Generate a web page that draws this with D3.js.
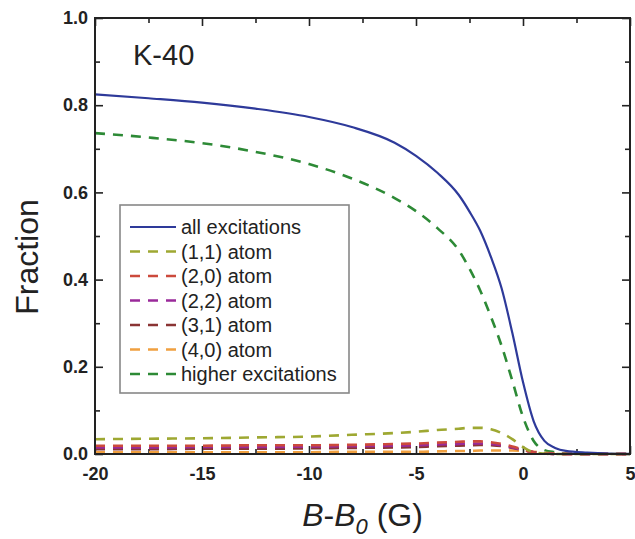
<!DOCTYPE html>
<html>
<head>
<meta charset="utf-8">
<script src="https://cdn.jsdelivr.net/npm/d3@7"></script>
<style>
  html, body { margin: 0; padding: 0; background: #fff; }
  svg { display: block; font-family: "Liberation Sans", Arial, sans-serif; }
  .tick text { font-family: "Liberation Sans", Arial, sans-serif; font-weight: bold; font-size: 18px; fill: #222; }
  .tick line { stroke: #222; stroke-width: 1.6; }
</style>
</head>
<body>
<svg id="chart" width="635" height="539"></svg>
<script>
// Detuning from resonance, B - B0 in gauss
const fieldG = [-20, -17.5, -15, -12.5, -10, -8, -6, -5, -4, -3, -2.5, -2, -1.5, -1, -0.5, 0, 0.5, 1, 1.5, 2, 3, 4, 5];

// Fraction of population in each excitation channel
const allExcitations = [0.825, 0.816, 0.806, 0.792, 0.773, 0.750, 0.714, 0.684, 0.645, 0.594, 0.556, 0.512, 0.452, 0.380, 0.278, 0.165, 0.075, 0.030, 0.014, 0.007, 0.003, 0.001, 0.0005];
const atom11 =         [0.034, 0.035, 0.036, 0.038, 0.040, 0.044, 0.048, 0.051, 0.055, 0.058, 0.060, 0.060, 0.057, 0.048, 0.034, 0.016, 0.004, 0.001, 0, 0, 0, 0, 0];
const atom20 =         [0.019, 0.019, 0.019, 0.020, 0.020, 0.021, 0.023, 0.024, 0.026, 0.028, 0.029, 0.029, 0.027, 0.023, 0.017, 0.010, 0.004, 0.001, 0, 0, 0, 0, 0];
const atom22 =         [0.015, 0.015, 0.016, 0.016, 0.017, 0.018, 0.019, 0.020, 0.022, 0.023, 0.024, 0.024, 0.023, 0.020, 0.015, 0.009, 0.004, 0.001, 0, 0, 0, 0, 0];
const atom31 =         [0.011, 0.011, 0.012, 0.012, 0.013, 0.014, 0.015, 0.016, 0.018, 0.019, 0.020, 0.021, 0.020, 0.018, 0.014, 0.009, 0.004, 0.001, 0, 0, 0, 0, 0];
const atom40 =         [0.004, 0.004, 0.004, 0.004, 0.004, 0.005, 0.005, 0.005, 0.006, 0.007, 0.007, 0.008, 0.008, 0.008, 0.008, 0.007, 0.005, 0.003, 0.001, 0, 0, 0, 0];
const higherExc =      [0.736, 0.726, 0.713, 0.693, 0.665, 0.632, 0.587, 0.557, 0.518, 0.467, 0.425, 0.375, 0.315, 0.248, 0.168, 0.085, 0.030, 0.009, 0.004, 0.001, 0, 0, 0];

const seriesNames  = ["all excitations", "(1,1) atom", "(2,0) atom", "(2,2) atom", "(3,1) atom", "(4,0) atom", "higher excitations"];
const seriesValues = [allExcitations, atom11, atom20, atom22, atom31, atom40, higherExc];
const seriesColors = ["#2e3a9a", "#9ea832", "#cc4a3c", "#9a2a9a", "#8a3434", "#f0a040", "#2d8a36"];
const seriesDashed = [false, true, true, true, true, true, true];

const xMajorTicks = [-20, -15, -10, -5, 0, 5];
const xMinorTicks = [-17.5, -12.5, -7.5, -2.5, 2.5];
const yMajorTicks = [0, 0.2, 0.4, 0.6, 0.8, 1.0];
const yMinorTicks = [0.1, 0.3, 0.5, 0.7, 0.9];

const svg = d3.select("#chart");
const margin = { left: 95, top: 18, right: 5, bottom: 85 };
const W = 635, H = 539;
const x = d3.scaleLinear().domain([-20, 5]).range([margin.left, W - margin.right]);
const y = d3.scaleLinear().domain([0, 1]).range([H - margin.bottom, margin.top]);

const fmtX = d => String(d);
const fmtY = d => d.toFixed(1);

function axis(gen, transform, ticks, size, fmt, pad) {
  const g = svg.append("g").attr("transform", transform)
    .call(gen.tickValues(ticks).tickSize(-size).tickPadding(pad).tickFormat(fmt));
  g.select(".domain").remove();
  return g;
}
const yBottom = y(0), yTop = y(1), xLeft = x(-20), xRight = x(5);
// bottom
axis(d3.axisBottom(x), `translate(0,${yBottom})`, xMajorTicks, 8, fmtX, 13);
axis(d3.axisBottom(x), `translate(0,${yBottom})`, xMinorTicks, 5, () => "", 13);
// top
axis(d3.axisTop(x), `translate(0,${yTop})`, xMajorTicks, 8, () => "", 4);
axis(d3.axisTop(x), `translate(0,${yTop})`, xMinorTicks, 5, () => "", 4);
// left
axis(d3.axisLeft(y), `translate(${xLeft},0)`, yMajorTicks, 8, fmtY, 7);
axis(d3.axisLeft(y), `translate(${xLeft},0)`, yMinorTicks, 5, () => "", 7);
// right
axis(d3.axisRight(y), `translate(${xRight},0)`, yMajorTicks, 8, () => "", 4);
axis(d3.axisRight(y), `translate(${xRight},0)`, yMinorTicks, 5, () => "", 4);

// curves, drawn back to front so the solid total sits on top
const line = d3.line().x((d, i) => x(fieldG[i])).y(d => y(d)).curve(d3.curveMonotoneX);
const order = [6, 5, 4, 3, 2, 1, 0];
order.forEach(k => {
  svg.append("path")
    .attr("d", line(seriesValues[k]))
    .attr("fill", "none")
    .attr("stroke", seriesColors[k])
    .attr("stroke-width", seriesDashed[k] ? 2.6 : 2.2)
    .attr("stroke-dasharray", seriesDashed[k] ? "10,8" : null);
});

// plot frame
svg.append("rect")
  .attr("x", xLeft).attr("y", yTop)
  .attr("width", xRight - xLeft).attr("height", yBottom - yTop)
  .attr("fill", "none").attr("stroke", "#222").attr("stroke-width", 2);

// legend
const lg = svg.append("g");
lg.append("rect").attr("x", 120).attr("y", 205).attr("width", 229).attr("height", 188)
  .attr("fill", "#fff").attr("stroke", "#888").attr("stroke-width", 1.6);
seriesNames.forEach((name, k) => {
  const yy = 227 + k * 24.5;
  lg.append("line").attr("x1", 130).attr("x2", 176).attr("y1", yy).attr("y2", yy)
    .attr("stroke", seriesColors[k]).attr("stroke-width", seriesDashed[k] ? 2.4 : 2.2)
    .attr("stroke-dasharray", seriesDashed[k] ? "10,8" : null);
  lg.append("text").attr("x", 181).attr("y", yy + 7)
    .attr("font-size", 20).attr("fill", "#222").text(name);
});

// annotation
svg.append("text").attr("x", 133).attr("y", 65).attr("font-size", 29).attr("fill", "#222").text("K-40");

// axis titles
svg.append("text")
  .attr("transform", "translate(38,257) rotate(-90)")
  .attr("text-anchor", "middle").attr("font-size", 32).attr("fill", "#222")
  .text("Fraction");

const xt = svg.append("text").attr("x", (xLeft + xRight) / 2).attr("y", 526)
  .attr("text-anchor", "middle").attr("font-size", 32).attr("fill", "#222");
xt.append("tspan").attr("font-style", "italic").text("B");
xt.append("tspan").text("-");
xt.append("tspan").attr("font-style", "italic").text("B");
xt.append("tspan").attr("font-style", "italic").attr("font-size", 22).attr("dy", 8).text("0");
xt.append("tspan").attr("dy", -8).text(" (G)");
</script>
</body>
</html>
